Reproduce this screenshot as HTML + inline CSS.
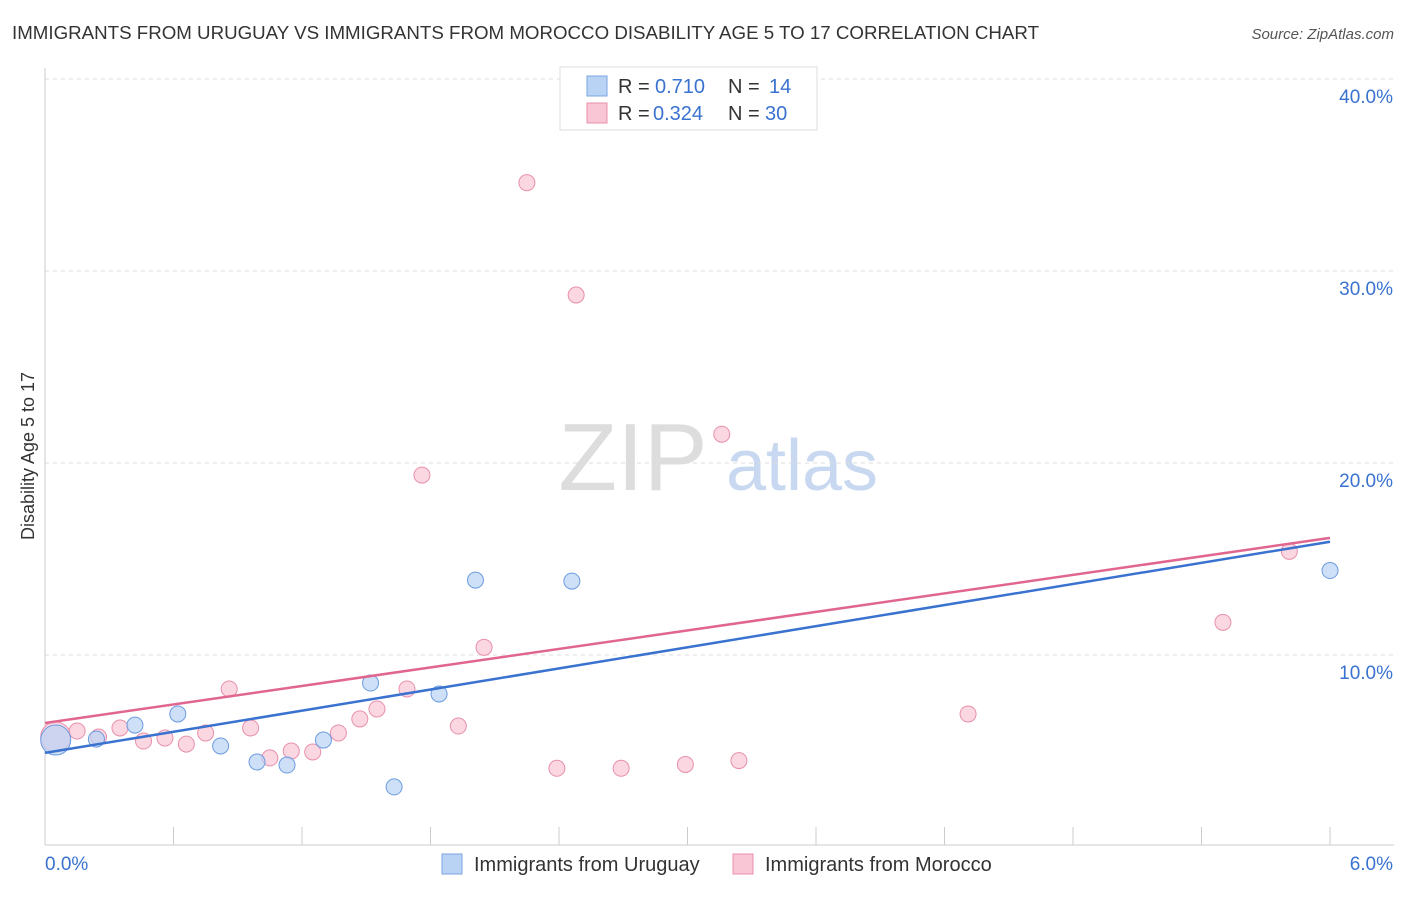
<!DOCTYPE html>
<html><head><meta charset="utf-8"><style>
body{margin:0;background:#fff;font-family:"Liberation Sans",sans-serif;}
svg text{font-family:"Liberation Sans",sans-serif;}
</style></head><body>
<svg id="chart" width="1406" height="892" xmlns="http://www.w3.org/2000/svg">
<text x="12" y="39" font-size="18.5" fill="#333" textLength="1027" lengthAdjust="spacingAndGlyphs">IMMIGRANTS FROM URUGUAY VS IMMIGRANTS FROM MOROCCO DISABILITY AGE 5 TO 17 CORRELATION CHART</text>
<text x="1394" y="39" font-size="15" fill="#555" text-anchor="end" font-style="italic">Source: ZipAtlas.com</text>
<text x="633" y="490" font-size="96" fill="#ddd" font-family="Liberation Serif" text-anchor="middle">ZIP</text>
<text x="802" y="490" font-size="72" fill="#c8d8f0" text-anchor="middle">atlas</text>
<text transform="translate(34,456) rotate(-90)" font-size="18" fill="#333" text-anchor="middle">Disability Age 5 to 17</text>
<g id="grid"></g><g id="marks"></g>
<g>
<rect x="560" y="67" width="257" height="63" fill="#fff" stroke="#ddd"/>
<rect x="587" y="76" width="20" height="20" fill="#b9d3f5" stroke="#7aa6e0"/>
<text x="618" y="93" font-size="20" fill="#333">R =</text><text x="655" y="93" font-size="20" fill="#3a72d0">0.710</text>
<text x="728" y="93" font-size="20" fill="#333">N =</text><text x="769" y="93" font-size="20" fill="#3a72d0">14</text>
<rect x="587" y="103" width="20" height="20" fill="#f8c6d4" stroke="#e890ab"/>
<text x="618" y="120" font-size="20" fill="#333">R =</text><text x="653" y="120" font-size="20" fill="#3a72d0">0.324</text>
<text x="728" y="120" font-size="20" fill="#333">N =</text><text x="765" y="120" font-size="20" fill="#3a72d0">30</text>
</g>
<g>
<rect x="442" y="854" width="20" height="20" fill="#b9d3f5" stroke="#7aa6e0"/>
<text x="474" y="871" font-size="20" fill="#333">Immigrants from Uruguay</text>
<rect x="733" y="854" width="20" height="20" fill="#f8c6d4" stroke="#e890ab"/>
<text x="765" y="871" font-size="20" fill="#333">Immigrants from Morocco</text>
</g>
</svg>
<script>
const uruguayX=[0.05,0.24,0.42,0.62,0.82,0.99,1.13,1.30,1.52,1.63,1.84,2.01,2.46,6.0];
const uruguayY=[5.57,5.62,6.35,6.93,5.26,4.43,4.27,5.57,8.54,3.13,7.97,13.9,13.85,14.4];
const moroccoX=[0.05,0.15,0.25,0.35,0.46,0.56,0.66,0.75,0.86,0.96,1.05,1.15,1.25,1.37,1.47,1.55,1.69,1.76,1.93,2.05,2.25,2.39,2.48,2.69,2.99,3.16,3.24,4.31,5.50,5.81];
const moroccoY=[5.73,6.04,5.73,6.2,5.52,5.68,5.36,5.94,8.23,6.2,4.64,5.0,4.95,5.94,6.67,7.19,8.23,19.37,6.3,10.4,34.6,4.1,28.75,4.1,4.3,21.5,4.5,6.93,11.7,15.4];
const trendX=[0,6];
const uruguayTrend=[4.9,15.9];
const moroccoTrend=[6.46,16.1];
const yTicks=[10,20,30,40];
const xTickVals=[0,0.6,1.2,1.8,2.4,3.0,3.6,4.2,4.8,5.4,6.0];
const NS="http://www.w3.org/2000/svg";
const sx=v=>45+v*214.17, sy=v=>847-v*19.2;
function mk(t,a,p){const e=document.createElementNS(NS,t);for(const k in a)e.setAttribute(k,a[k]);p.appendChild(e);return e;}
const grid=document.getElementById('grid'),marks=document.getElementById('marks');
yTicks.forEach(t=>{
 const l=mk('line',{x1:45,x2:1394,y1:sy(t),y2:sy(t),stroke:'#ddd','stroke-dasharray':'4,4'},grid);
 
 
 const tx=mk('text',{x:1393,y:sy(t)+24,'font-size':19,fill:'#3a72d0','text-anchor':'end'},grid);tx.textContent=t.toFixed(1)+'%';
 
 
});
const ax=mk('line',{x1:45,x2:1394,y1:845,y2:845,stroke:'#ccc'},grid);


const ay=mk('line',{x1:45,x2:45,y1:68,y2:845,stroke:'#ccc'},grid);


xTickVals.forEach(t=>{const l=mk('line',{x1:sx(t),x2:sx(t),y1:827,y2:845,stroke:'#ccc'},grid);
 
 });
[['0.0%',45,'start'],['6.0%',1393,'end']].forEach(d=>{const t=mk('text',{x:d[1],y:870,'font-size':19,fill:'#3a72d0','text-anchor':d[2]},grid);t.textContent=d[0];
 
 });
function pts(X,Y,fill,stroke,name){X.forEach((x,i)=>{const c=mk('circle',{cx:sx(x),cy:sy(Y[i]),r:i===0?15:8,fill:fill,stroke:stroke,'fill-opacity':0.7},marks);
 
 });}
pts(moroccoX,moroccoY,'#f8c6d4','#e890ab','morocco-point');
pts(uruguayX,uruguayY,'#b9d3f5','#6b9be0','uruguay-point');
const l1=mk('line',{x1:sx(trendX[0]),y1:sy(uruguayTrend[0]),x2:sx(trendX[1]),y2:sy(uruguayTrend[1]),stroke:'#3a72d0','stroke-width':2.5},marks);


const l2=mk('line',{x1:sx(trendX[0]),y1:sy(moroccoTrend[0]),x2:sx(trendX[1]),y2:sy(moroccoTrend[1]),stroke:'#e0668f','stroke-width':2.5},marks);


</script>
</body></html>
